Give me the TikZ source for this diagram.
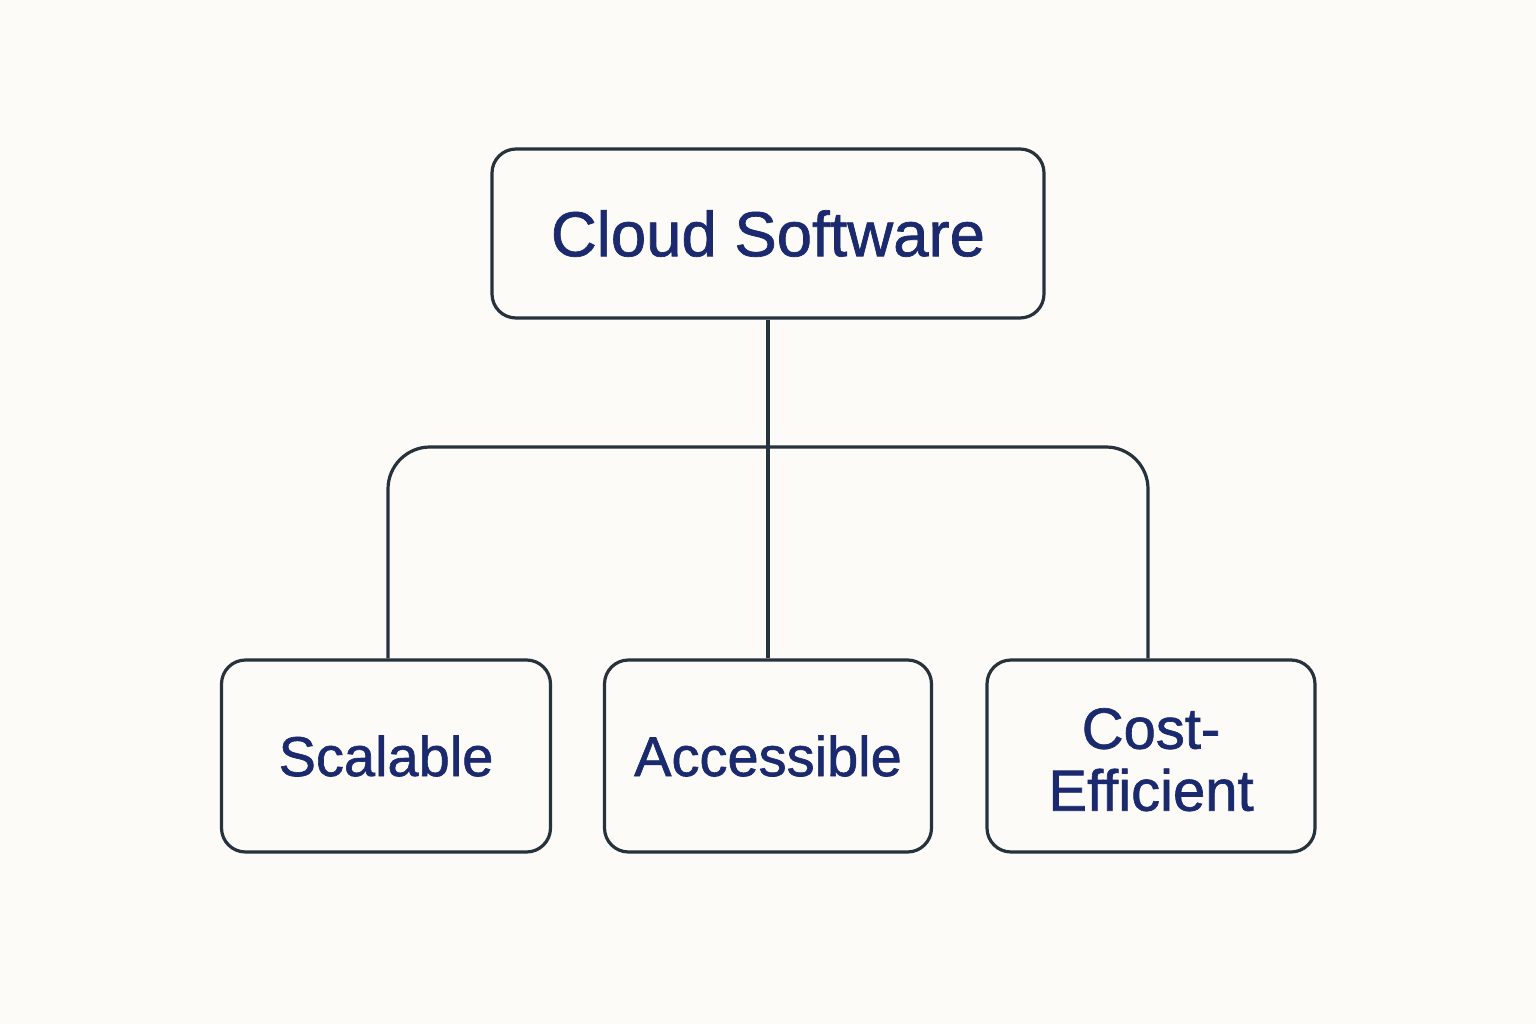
\documentclass[tikz,border=0pt]{standalone}
\usepackage{fontspec}
\setmainfont{Liberation Sans}
\newfontfamily\medfont[FakeBold=1.1]{Liberation Sans}
\definecolor{bg}{HTML}{FCFBF7}
\definecolor{stroke}{HTML}{26323C}
\definecolor{txt}{HTML}{1B2A6E}
\begin{document}
\begin{tikzpicture}[x=1pt,y=-1pt,
  box/.style={draw=stroke, line width=3.2pt, rounded corners=24pt, fill=bg, text=txt, inner sep=0pt, align=center},
  conn/.style={draw=stroke, line width=3.2pt}]
\fill[bg] (0,0) rectangle (1536,1024);
\useasboundingbox (0,0) rectangle (1536,1024);
\node[box, minimum width=552pt, minimum height=169pt, font=\medfont\fontsize{63.5}{63}\selectfont] (top) at (768,233.5) {Cloud Software};
\node[box, minimum width=329pt, minimum height=192pt, font=\medfont\fontsize{56}{62}\selectfont] (left) at (386,756) {Scalable};
\node[box, minimum width=327pt, minimum height=192pt, font=\medfont\fontsize{56}{62}\selectfont] (mid) at (768,756) {Accessible};
\node[box, minimum width=328pt, minimum height=192pt, font=\medfont\fontsize{58}{62}\selectfont] (right) at (1151,756) {\begin{tabular}{@{}c@{}}\rule{0pt}{66pt}Cost-\\Efficient\end{tabular}};
\coordinate (bar) at (768,447);
\draw[conn, rounded corners=42pt] ([xshift=2pt]left.north) |- (bar) -| ([xshift=-3pt]right.north);
\draw[conn] (top.south) -- (mid.north);
\end{tikzpicture}
\end{document}
